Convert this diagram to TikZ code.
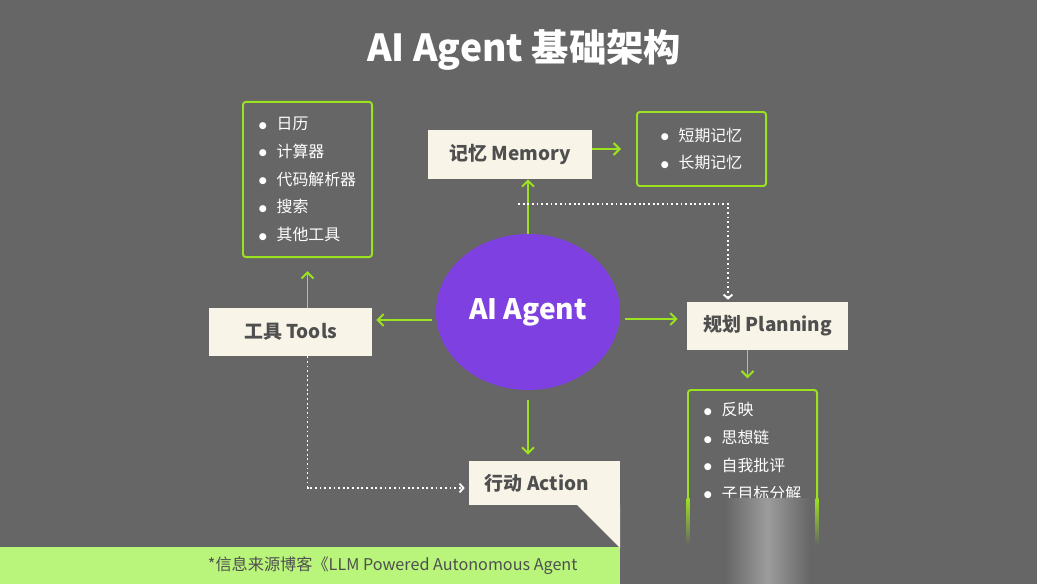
\documentclass[tikz,border=0pt]{standalone}
\usepackage{fontspec}
\setmainfont{Noto Sans CJK SC}
\newfontfamily\dotfont{DejaVu Sans}
\usepackage{tikz}
\usetikzlibrary{calc, positioning, arrows.meta, shapes.geometric}
\definecolor{bg_gray}{HTML}{666666}
\definecolor{lime_line}{HTML}{9BE21F}
\definecolor{box_beige}{HTML}{F8F4E8}
\definecolor{box_text}{HTML}{4F4F4F}
\definecolor{agent_purple}{HTML}{7E40E0}
\definecolor{foot_green}{HTML}{B8F57A}
\newcommand{\itemdot}{\raisebox{1pt}{\dotfont\fontsize{6.5pt}{7pt}\selectfont ●}\hspace{7pt}}
\tikzset{
  stagebox/.style={fill=box_beige, text=box_text, font=\fontsize{13.5pt}{16pt}\selectfont\bfseries, inner sep=0pt},
  listbox/.style={draw=lime_line, line width=1.4pt, rounded corners=2pt, text=white, align=left, inner sep=0pt, font=\fontsize{11.3pt}{19.8pt}\selectfont},
  arr/.style={draw=lime_line, line width=1.4pt, -{Straight Barb[length=1.5mm, width=3mm]}},
  dots/.style={draw=white, line width=1.3pt, dotted, -{Straight Barb[length=1mm, width=2.2mm]}}
}

\begin{document}
\begin{tikzpicture}[x=0.025cm, y=-0.025cm]
        % background and title
        \fill[bg_gray] (0,0) rectangle (1037,584);
        \node[text=white, font=\fontsize{26.5pt}{30pt}\selectfont\bfseries] (title) at (524,50) {AI Agent 基础架构};

        % centre
        \node[ellipse, fill=agent_purple, minimum width=4.6cm, minimum height=3.9cm, inner sep=0pt, text=white, font=\fontsize{20pt}{22pt}\selectfont\bfseries] (agent) at (528,312) {AI Agent};

        % the four stages
        \node[stagebox, minimum width=4.1cm, minimum height=1.225cm] (memory) at (510,154.5) {记忆 Memory};
        \node[stagebox, minimum width=4.075cm, minimum height=1.2cm] (tools) at (290.5,332) {工具 Tools};
        \node[stagebox, minimum width=4.025cm, minimum height=1.2cm] (planning) at (767.5,326) {\makebox[3.2cm][l]{规划 Planning}};
        \node[stagebox, minimum width=3.775cm, minimum height=1.1cm] (action) at (544.5,483) {\makebox[2.975cm][l]{\raisebox{-3pt}{行动 Action}}};

        % lists
        \node[listbox, minimum width=3.225cm, minimum height=3.875cm] (toollist) at (307.5,179.5) {\itemdot 日历\\ \itemdot 计算器\\ \itemdot 代码解析器\\ \itemdot 搜索\\ \itemdot 其他工具};
        \node[listbox, minimum width=3.225cm, minimum height=1.85cm] (memlist) at (701.5,149) {\itemdot 短期记忆\\ \itemdot 长期记忆};
        \node[listbox, minimum width=3.225cm, minimum height=3.075cm] (planlist) at (752.5,451.5) {\itemdot 反映\\ \itemdot 思想链\\ \itemdot 自我批评\\ \itemdot 子目标分解};

        % connectors
        \draw[arr] (agent.north) -- (agent.north |- memory.south);
        \draw[arr, shorten >=0.375cm] (memlist.west -| memory.east) -- (memlist.west);
        \draw[arr] ($(agent.east)+(5,7)$) -- ($(planning.west)+(-9,-7)$);
        \draw[arr] ($(planning.south)+(-20,0)$) -- ($(planning.south)+(-20,28)$);
        \draw[arr] ($(agent.west)+(-4,8)$) -- ($(tools.east)+(4,-12)$);
        \draw[arr, shorten >=0.325cm] (tools.north -| toollist.south) -- (toollist.south);
        \draw[arr, shorten >=0.15cm] ($(agent.south)+(0,10)$) -- (agent.south |- action.north);
        \coordinate (memtap) at ($(agent.north)!0.55!(memory.south)$);
        \draw[dots] (memtap) -| ($(planning.north)+(-39.5,-2)$);
        \draw[dots] (tools.south -| toollist.south) |- ($(action.west)+(-4,5)$);

        % footer
        \fill[foot_green] (0,547) -- (620,547) -- (657,584) -- (0,584) -- cycle;
        \node[anchor=west, text=box_text, font=\fontsize{11.5pt}{13pt}\selectfont] (source) at (203,566) {*信息来源博客《LLM Powered Autonomous Agent};

        % smeared lower right corner
        \fill[bg_gray] (620,498) rectangle (880,584);
        \fill[box_beige] (577,505) -- (620,505) -- (620,548) -- cycle;
        \shade[left color=bg_gray, right color=bg_gray, middle color=white!35!bg_gray] (725,498) rectangle (810,584);
        \shade[top color=lime_line, bottom color=bg_gray] (686.5,498) rectangle (689.5,545);
        \shade[top color=lime_line, bottom color=bg_gray] (815.5,498) rectangle (818.5,545);
\end{tikzpicture}
\end{document}
